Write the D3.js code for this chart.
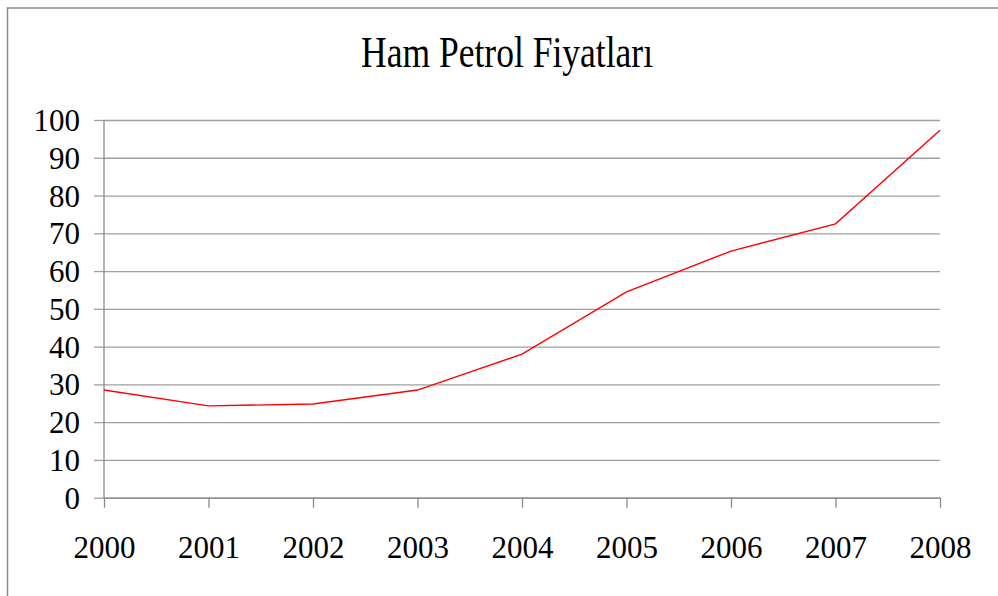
<!DOCTYPE html>
<html>
<head>
<meta charset="utf-8">
<script src="https://cdn.jsdelivr.net/npm/d3@7"></script>
<style>
  body { margin: 0; background: #fff; }
  text { font-family: "Liberation Serif", "Times New Roman", serif; fill: #000; }
</style>
</head>
<body>
<div id="chart"></div>
<script>
// data
var years = ["2000", "2001", "2002", "2003", "2004", "2005", "2006", "2007", "2008"];
var prices = [28.5, 24.3, 24.8, 28.5, 38.0, 54.5, 65.3, 72.5, 97.3];
var yTicks = [0, 10, 20, 30, 40, 50, 60, 70, 80, 90, 100];
var title = "Ham Petrol Fiyatları";

var width = 998, height = 596;
var margin = { top: 120, right: 58, bottom: 98.3, left: 104 };

var svg = d3.select("#chart")
    .append("svg")
    .attr("width", width)
    .attr("height", height);

// outer chart border (right/bottom edges fall outside the picture)
svg.append("rect")
    .attr("x", 7.5)
    .attr("y", 8)
    .attr("width", width + 20)
    .attr("height", height + 20)
    .attr("fill", "none")
    .attr("stroke", "#8a8a8a")
    .attr("stroke-width", 1.5);

var x = d3.scalePoint()
    .domain(years)
    .range([margin.left, width - margin.right]);

var y = d3.scaleLinear()
    .domain([0, 100])
    .range([height - margin.bottom, margin.top]);

// gridlines + y ticks
var yAxis = svg.append("g")
    .attr("transform", "translate(" + margin.left + ",0)")
    .call(d3.axisLeft(y)
        .tickValues(yTicks)
        .tickSize(10)
        .tickPadding(14));

yAxis.select(".domain").remove();
yAxis.selectAll(".tick line")
    .attr("x2", -10)
    .attr("stroke", "#a0a0a0")
    .attr("stroke-width", 1.3);
yAxis.selectAll(".tick")
    .append("line")
    .attr("x1", 0)
    .attr("x2", x.range()[1] - margin.left)
    .attr("stroke", "#a0a0a0")
    .attr("stroke-width", 1.3);
yAxis.selectAll(".tick text")
    .attr("font-size", 31)
    .attr("font-family", "Liberation Serif")
    .attr("dy", "0.34em");

// x axis
var xAxis = svg.append("g")
    .attr("transform", "translate(0," + y(0) + ")")
    .call(d3.axisBottom(x)
        .tickSize(10)
        .tickPadding(28)
        .tickSizeOuter(0));

xAxis.select(".domain")
    .attr("stroke", "#8a8a8a")
    .attr("stroke-width", 1.3);
xAxis.selectAll(".tick line")
    .attr("stroke", "#8a8a8a")
    .attr("stroke-width", 1.3);
xAxis.selectAll(".tick text")
    .attr("font-size", 31)
    .attr("font-family", "Liberation Serif");

// y axis line
svg.append("line")
    .attr("x1", margin.left)
    .attr("x2", margin.left)
    .attr("y1", y(100))
    .attr("y2", y(0))
    .attr("stroke", "#8a8a8a")
    .attr("stroke-width", 1.3);

// price line
var line = d3.line()
    .x(function (d, i) { return x(years[i]); })
    .y(function (d) { return y(d); });

svg.append("path")
    .datum(prices)
    .attr("fill", "none")
    .attr("stroke", "#ff0000")
    .attr("stroke-width", 1.4)
    .attr("d", line);

// title
svg.append("text")
    .attr("x", 507)
    .attr("y", 67)
    .attr("text-anchor", "middle")
    .attr("font-size", 44)
    .attr("textLength", 292)
    .attr("lengthAdjust", "spacingAndGlyphs")
    .text(title);
</script>
</body>
</html>
